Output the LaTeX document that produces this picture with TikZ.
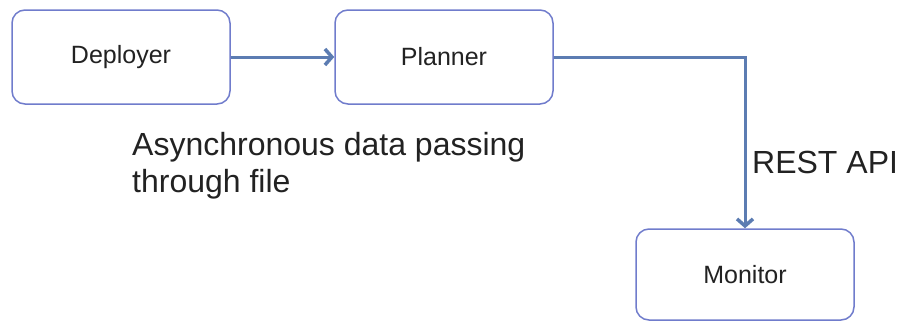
\documentclass[tikz,border=0pt]{standalone}
\usepackage{fontspec}
\setmainfont{Liberation Sans}
\usetikzlibrary{arrows.meta}
\definecolor{boxline}{RGB}{112,124,204}
\definecolor{flow}{RGB}{92,124,178}
\definecolor{ink}{RGB}{34,34,34}
\tikzset{
  stage/.style={draw=boxline, line width=1.5pt, rounded corners=13pt, fill=white,
    minimum width=218pt, minimum height=94pt, inner sep=0pt, text=ink,
    font=\fontsize{25}{30}\selectfont},
  flowline/.style={draw=flow, line width=3pt,
    -{Straight Barb[length=7pt, width=16pt, line width=3.5pt]}},
  note/.style={text=ink, font=\fontsize{32}{37}\selectfont, inner sep=0pt}
}
\begin{document}
\begin{tikzpicture}[x=1pt, y=-1pt]
  \useasboundingbox (0,0) rectangle (900,322);
  \node[stage] (dep) at (121,57) {Deployer};
  \node[stage] (plan) at (444,57) {Planner};
  \node[stage, minimum height=91pt] (mon) at (745,274.5) {Monitor};
  \draw[flowline] (dep) -- (plan);
  \draw[flowline] (plan.east) -| (mon.north);
  % the base anchor of a two-line node sits on its last line
  \node[note, anchor=base west, align=left] (async) at (132,192)
    {Asynchronous data passing\\through file};
  \node[note, anchor=base west] (rest) at (752,173) {REST API};
\end{tikzpicture}
\end{document}
